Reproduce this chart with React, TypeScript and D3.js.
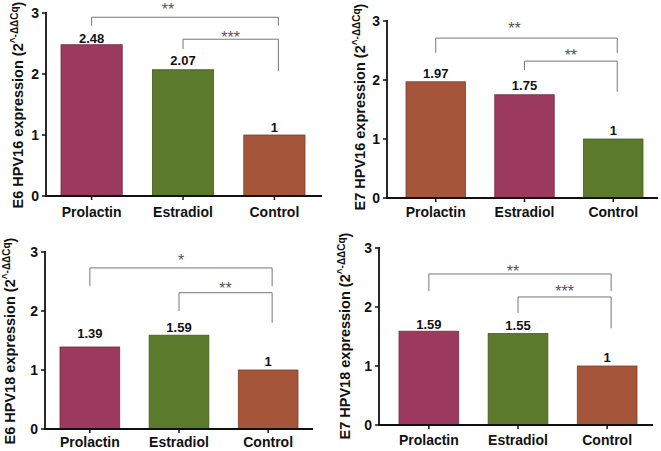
import React from "react";
import * as d3 from "d3";

const categories = ["Prolactin", "Estradiol", "Control"];
const yTicks = [0, 1, 2, 3];

const e6Hpv16 = [2.48, 2.07, 1];
const e7Hpv16 = [1.97, 1.75, 1];
const e6Hpv18 = [1.39, 1.59, 1];
const e7Hpv18 = [1.59, 1.55, 1];

const valueLabels1 = ["2.48", "2.07", "1"];
const valueLabels2 = ["1.97", "1.75", "1"];
const valueLabels3 = ["1.39", "1.59", "1"];
const valueLabels4 = ["1.59", "1.55", "1"];

const titles = ["E6 HPV16 expression", "E7 HPV16 expression", "E6 HPV18 expression", "E7 HPV18 expression"];

// significance: [fromIndex, toIndex, stars]
const sig1: [number, number, string][] = [[0, 2, "**"], [1, 2, "***"]];
const sig2: [number, number, string][] = [[0, 2, "**"], [1, 2, "**"]];
const sig3: [number, number, string][] = [[0, 2, "*"], [1, 2, "**"]];
const sig4: [number, number, string][] = [[0, 2, "**"], [1, 2, "***"]];

const CRIMSON = "#9c3a5d";
const GREEN = "#5b7a2b";
const BRICK = "#a4553a";

type Layout = {
  axisX: number; xEnd: number; yTop: number; y0: number;
  barL: number; barR: number;
  labelCx: number; labelCy: number; catBase: number;
  colors: string[]; gaps: number[];
  // bracket geometry: [top, leftLegBottom, rightLegBottom, starCenterAbove, starDx]
  brackets: number[][];
};

const panels = [
  {
    values: e6Hpv16, labels: valueLabels1, title: titles[0], sig: sig1,
    layout: {
      axisX: 46, xEnd: 322, yTop: 13, y0: 196, barL: 61, barR: 305,
      labelCx: 18, labelCy: 105, catBase: 217,
      colors: [CRIMSON, GREEN, BRICK], gaps: [2, 5, 3],
      brackets: [[2.93, 2.79, 2.79, 12, -17], [2.57, 2.41, 2.05, 6, 0]],
    } as Layout,
  },
  {
    values: e7Hpv16, labels: valueLabels2, title: titles[1], sig: sig2,
    layout: {
      axisX: 387, xEnd: 658, yTop: 21, y0: 198, barL: 406, barR: 643,
      labelCx: 360, labelCy: 107, catBase: 217,
      colors: [BRICK, CRIMSON, GREEN], gaps: [4, 5, 4],
      brackets: [[2.71, 2.46, 2.46, 13, -12], [2.32, 2.17, 1.8, 9, 0]],
    } as Layout,
  },
  {
    values: e6Hpv18, labels: valueLabels3, title: titles[2], sig: sig3,
    layout: {
      axisX: 45, xEnd: 313, yTop: 252, y0: 429, barL: 60, barR: 298,
      labelCx: 10, labelCy: 341, catBase: 447,
      colors: [CRIMSON, GREEN, BRICK], gaps: [9, 3, 4],
      brackets: [[2.73, 2.42, 2.42, 11, 0], [2.31, 2.0, 1.8, 8, 0]],
    } as Layout,
  },
  {
    values: e7Hpv18, labels: valueLabels4, title: titles[3], sig: sig4,
    layout: {
      axisX: 379, xEnd: 653, yTop: 248, y0: 425, barL: 399, barR: 637,
      labelCx: 345, labelCy: 336, catBase: 445,
      colors: [CRIMSON, GREEN, BRICK], gaps: [2, 4, 4],
      brackets: [[2.56, 2.27, 2.27, 6, -7], [2.17, 1.9, 1.64, 9, 0]],
    } as Layout,
  },
];

const FONT = "'Liberation Sans', Arial, Helvetica, sans-serif";

function Panel({ values, labels, title, sig, layout }: {
  values: number[]; labels: string[]; title: string; sig: [number, number, string][]; layout: Layout;
}) {
  const x = d3.scaleBand<string>().domain(categories).range([layout.barL, layout.barR]).paddingInner(0.33).paddingOuter(0);
  const y = d3.scaleLinear().domain([0, 3]).range([layout.y0, layout.yTop]);
  const bw = x.bandwidth();
  const cx = (c: string) => (x(c) as number) + bw / 2;

  return (
    <g>
      {categories.map((c, i) => (
        <rect key={c} x={x(c)} y={y(values[i])} width={bw} height={y(0) - y(values[i])}
          fill={layout.colors[i]} stroke={d3.color(layout.colors[i])!.darker(0.8).toString()} strokeWidth={0.8} />
      ))}
      {categories.map((c, i) => (
        <text key={c} x={cx(c)} y={y(values[i]) - layout.gaps[i]} textAnchor="middle"
          fontFamily={FONT} fontWeight="bold" fontSize={13} fill="#111">{labels[i]}</text>
      ))}
      <line x1={layout.axisX} x2={layout.axisX} y1={y(3) - 1} y2={y(0)} stroke="#111" strokeWidth={1.8} />
      {yTicks.map(t => (
        <g key={t}>
          <line x1={layout.axisX - 4} x2={layout.axisX} y1={y(t)} y2={y(t)} stroke="#111" strokeWidth={1.5} />
          <text x={layout.axisX - 7} y={y(t)} dy="0.36em" textAnchor="end"
            fontFamily={FONT} fontWeight="bold" fontSize={14} fill="#111">{t}</text>
        </g>
      ))}
      <line x1={layout.axisX - 1} x2={layout.xEnd} y1={y(0)} y2={y(0)} stroke="#111" strokeWidth={1.8} />
      {categories.map(c => (
        <g key={c}>
          <line x1={cx(c)} x2={cx(c)} y1={y(0)} y2={y(0) + 4} stroke="#111" strokeWidth={1.5} />
          <text x={cx(c)} y={layout.catBase} textAnchor="middle"
            fontFamily={FONT} fontWeight="bold" fontSize={14} fill="#111">{c}</text>
        </g>
      ))}
      <text transform={`translate(${layout.labelCx},${layout.labelCy}) rotate(-90)`} dy="0.36em"
        textAnchor="middle" fontFamily={FONT} fontWeight="bold" fontSize={14.5} fill="#111">
        {title} (2<tspan fontSize={10} dy={-5}>^-ΔΔCq</tspan><tspan dy={5}>)</tspan>
      </text>
      {sig.map(([a, b, s], k) => {
        const [top, lb, rb, starUp, dx] = layout.brackets[k];
        const xl = cx(categories[a]);
        const xr = cx(categories[b]) + 4;
        const yt = y(top);
        return (
          <g key={k}>
            <path d={`M${xl},${y(lb)}V${yt}H${xr}V${y(rb)}`} fill="none" stroke="#777" strokeWidth={1} />
            <text x={(xl + xr) / 2 + dx} y={yt - starUp + 9.3} textAnchor="middle"
              fontFamily={FONT} fontSize={16} fill="#555">{s}</text>
          </g>
        );
      })}
    </g>
  );
}

export default function App() {
  return (
    <svg width={661} height={451} style={{ position: "absolute", left: 0, top: 0, background: "#fff" }}>
      <rect width={661} height={451} fill="#fff" />
      {panels.map((p, i) => (
        <Panel key={i} {...p} />
      ))}
    </svg>
  );
}
